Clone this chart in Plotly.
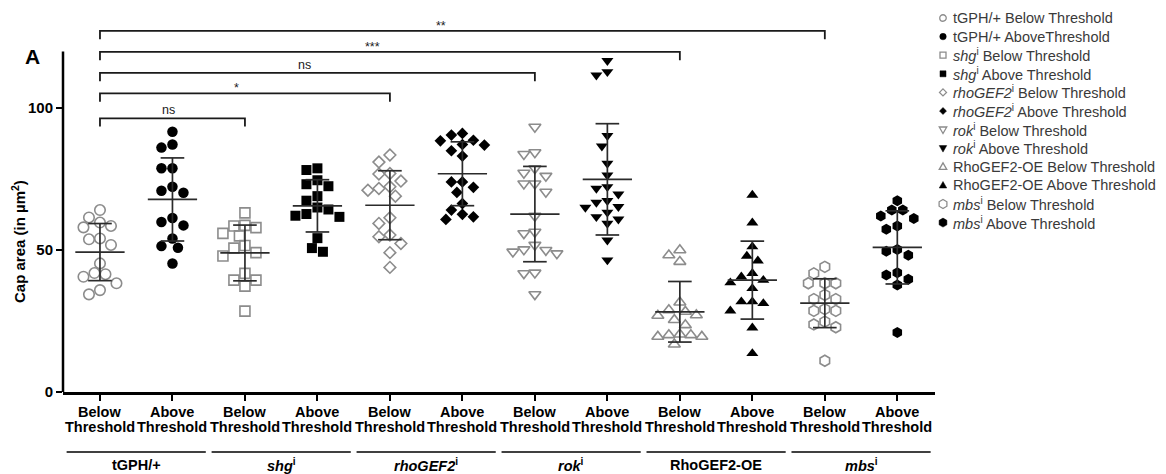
import numpy as np
import plotly.graph_objects as go

# ---------------- data ----------------
groups = ["tGPH/+", "<i>shg</i><sup>i</sup>", "<i>rhoGEF2</i><sup>i</sup>",
          "<i>rok</i><sup>i</sup>", "RhoGEF2-OE", "<i>mbs</i><sup>i</sup>"]
tick_top = ["Below", "Above"] * 6
tick_bottom = ["Threshold"] * 12

legend_names = [
    "tGPH/+ Below Threshold", "tGPH/+ AboveThreshold",
    "<i>shg</i><sup>i</sup> Below Threshold", "<i>shg</i><sup>i</sup> Above Threshold",
    "<i>rhoGEF2</i><sup>i</sup> Below Threshold", "<i>rhoGEF2</i><sup>i</sup> Above Threshold",
    "<i>rok</i><sup>i</sup> Below Threshold", "<i>rok</i><sup>i</sup> Above Threshold",
    "RhoGEF2-OE Below Threshold", "RhoGEF2-OE Above Threshold",
    "<i>mbs</i><sup>i</sup> Below Threshold", "<i>mbs</i><sup>i</sup> Above Threshold",
]

tgph_below = [64.1, 61.5, 59.7, 58.0, 58.5, 53.8, 54.1, 51.8, 45.3, 41.5, 40.6, 41.9, 38.3, 35.9, 34.4]
tgph_above = [91.7, 87.2, 86.1, 78.8, 78.8, 70.9, 70.2, 72.3, 61.3, 58.7, 59.9, 54.1, 51.4, 50.8, 45.3]
shg_below = [63.1, 57.9, 58.7, 58.5, 55.9, 55.0, 51.6, 50.7, 49.1, 47.9, 41.8, 39.4, 39.4, 37.3, 28.5]
shg_above = [78.8, 78.2, 74.6, 72.5, 73.2, 69.0, 67.4, 65.0, 64.3, 62.7, 61.7, 62.1, 54.2, 49.4, 50.7]
rhogef2_below = [83.5, 81.0, 76.8, 77.0, 74.3, 71.7, 72.3, 71.1, 69.0, 61.4, 59.4, 54.7, 55.3, 52.3, 49.1, 43.9]
rhogef2_above = [90.5, 91.1, 88.5, 88.7, 87.2, 87.0, 85.0, 83.1, 74.0, 74.0, 72.1, 70.3, 66.4, 64.1, 62.6, 60.8, 61.7]
rok_below = [93.4, 84.4, 83.8, 78.8, 76.1, 77.2, 73.4, 73.4, 70.5, 62.0, 56.4, 55.9, 51.8, 50.0, 49.4, 50.2, 48.8, 42.0, 41.8, 34.4]
rok_above = [116.7, 111.6, 112.8, 90.3, 86.6, 80.5, 76.4, 72.3, 71.7, 69.7, 67.4, 66.8, 65.0, 65.3, 63.3, 61.7, 60.9, 59.4, 53.5, 46.5]
oe_below = [48.2, 50.0, 45.9, 31.6, 28.3, 28.9, 27.1, 26.9, 25.4, 23.6, 19.5, 20.1, 19.5, 20.1, 20.3, 16.8]
oe_above = [69.4, 59.6, 51.2, 47.9, 46.2, 41.8, 40.6, 39.4, 38.5, 36.5, 31.8, 31.8, 31.2, 28.6, 22.6, 13.6]
mbs_below = [44.1, 41.8, 38.3, 38.3, 38.3, 34.2, 32.7, 32.7, 29.2, 28.6, 28.6, 23.8, 22.8, 24.8, 11.0]
mbs_above = [67.4, 64.1, 64.1, 62.0, 61.1, 58.5, 57.3, 50.2, 48.2, 49.6, 42.0, 39.7, 41.2, 37.7, 21.0]

series = [tgph_below, tgph_above, shg_below, shg_above, rhogef2_below, rhogef2_above,
          rok_below, rok_above, oe_below, oe_above, mbs_below, mbs_above]

# significance comparisons (all against column 0)
bracket_end = [2, 4, 6, 8, 10]
bracket_text = ["ns", "*", "ns", "***", "**"]

# ---------------- layout constants ----------------
# page body has an 8px margin, so the figure is drawn 8px smaller and offset
OFF = 8
W, H = 1166 - OFF, 474 - OFF
PL, PR, PT, PB = 63, 935, 23, 392          # plot area in window pixels
ML, MR, MT, MB = PL - OFF, W - (PR - OFF), PT - OFF, H - (PB - OFF)
XR = [-0.51, 11.52]
YR = [0, 130]
PW, PH = PR - PL, PB - PT
PX_X = PW / (XR[1] - XR[0])
PX_Y = PH / (YR[1] - YR[0])
BRACKET_Y = [96.4, 105.2, 112.4, 119.8, 127.2]
FONT = "Liberation Sans, Arial, sans-serif"
GRAY = "#8c8c8c"

symbols = ["circle", "square", "diamond", "triangle-down", "triangle-up", "hexagon"]
sizes = [10.5, 10, 9, 10.5, 10.5, 11]
leg_sizes = [6.5, 6, 7, 7.5, 7.5, 9]


def swarm(vals, diam=11.0):
    vals = np.asarray(vals, dtype=float)
    order = np.argsort(-vals, kind="stable")
    h = diam / 2.0
    cands = [0.0]
    for k in range(1, 8):
        cands += [-k * h, k * h]
    placed = []
    offs = np.zeros(len(vals))
    for i in order:
        y = vals[i] * PX_Y
        for c in cands:
            ok = all((c - px) ** 2 + (y - py) ** 2 >= (0.97 * diam) ** 2 for px, py in placed)
            if ok:
                placed.append((c, y))
                offs[i] = c / PX_X
                break
    return offs


def px2paper(px, py):
    return (px - PL) / PW, (PB - py) / PH


def key_shape(sym, cx, cy, s, filled):
    style = dict(xref="paper", yref="paper", layer="above",
                 fillcolor="black" if filled else "rgba(0,0,0,0)",
                 line=dict(color="black" if filled else GRAY, width=0.5 if filled else 1.3))
    r = s / 2.0
    if sym == "circle":
        x0, y0 = px2paper(cx - r, cy + r)
        x1, y1 = px2paper(cx + r, cy - r)
        return dict(type="circle", x0=x0, y0=y0, x1=x1, y1=y1, **style)
    if sym == "square":
        x0, y0 = px2paper(cx - r, cy + r)
        x1, y1 = px2paper(cx + r, cy - r)
        return dict(type="rect", x0=x0, y0=y0, x1=x1, y1=y1, **style)
    if sym == "diamond":
        pts = [(cx, cy - r), (cx + r, cy), (cx, cy + r), (cx - r, cy)]
    elif sym == "triangle-down":
        hh = s * 0.87
        pts = [(cx - r, cy - hh * 0.4), (cx + r, cy - hh * 0.4), (cx, cy + hh * 0.6)]
    elif sym == "triangle-up":
        hh = s * 0.87
        pts = [(cx - r, cy + hh * 0.4), (cx + r, cy + hh * 0.4), (cx, cy - hh * 0.6)]
    else:  # hexagon
        pts = [(cx + r * np.cos(np.radians(90 + 60 * k)), cy + r * np.sin(np.radians(90 + 60 * k)))
               for k in range(6)]
    pp = [px2paper(a, b) for a, b in pts]
    path = "M " + " L ".join(f"{a:.5f},{b:.5f}" for a, b in pp) + " Z"
    return dict(type="path", path=path, **style)


fig = go.Figure()

for i, vals in enumerate(series):
    g = i // 2
    below = (i % 2 == 0)
    sym = symbols[g] + ("-open" if below else "")
    offs = swarm(vals)
    fig.add_trace(go.Scatter(
        x=i + offs, y=vals, mode="markers", showlegend=False, name=legend_names[i],
        marker=dict(symbol=sym, size=sizes[g], color=GRAY if below else "black",
                    line=dict(width=1.6 if below else 0, color=GRAY if below else "black")),
        hoverinfo="y"))

# mean +/- SD
mx, my = [], []
for i, vals in enumerate(series):
    m = float(np.mean(vals))
    s = float(np.std(vals, ddof=1))
    mx += [i - 0.34, i + 0.34, None, i - 0.163, i + 0.163, None,
           i - 0.163, i + 0.163, None, i, i, None]
    my += [m, m, None, m + s, m + s, None, m - s, m - s, None, m - s, m + s, None]
fig.add_trace(go.Scatter(x=mx, y=my, mode="lines", showlegend=False,
                         line=dict(color="#2b2b2b", width=1.7), hoverinfo="skip"))

shapes = []
annotations = []

# manual legend (keys + texts) to the right of the plot
LEG_X_SYM, LEG_X_TXT, LEG_Y0, LEG_DY = 943, 951, 18, 18.6
for k, name in enumerate(legend_names):
    g = k // 2
    below = (k % 2 == 0)
    py = LEG_Y0 + LEG_DY * k
    shapes.append(key_shape(symbols[g], LEG_X_SYM, py, leg_sizes[g], not below))
    tx, ty = px2paper(LEG_X_TXT, py)
    annotations.append(dict(x=tx, y=ty, xref="paper", yref="paper",
                            text=name, showarrow=False, xanchor="left", yanchor="middle",
                            font=dict(family=FONT, size=14.5, color="#3a3a3a")))

# y axis line (stops at 120)
shapes.append(dict(type="line", xref="paper", yref="y", x0=0, x1=0, y0=0, y1=120,
                   line=dict(color="black", width=2.5)))

# brackets
for b, txt, hy in zip(bracket_end, bracket_text, BRACKET_Y):
    d = 2.9
    shapes.append(dict(type="path", xref="x", yref="y",
                       path=f"M 0,{hy - d} L 0,{hy} L {b},{hy} L {b},{hy - d}",
                       line=dict(color="#1a1a1a", width=1.8)))
    annotations.append(dict(x=0.47 * b, y=hy, xref="x", yref="y", text=txt,
                            showarrow=False, yanchor="bottom",
                            yshift=-4 if "*" in txt else -1,
                            font=dict(family=FONT, size=12.5, color="#1a1a1a")))

# x labels (two rows)
for i in range(12):
    annotations.append(dict(x=i, y=0, xref="x", yref="paper", text=f"<b>{tick_top[i]}</b>",
                            showarrow=False, yanchor="middle", yshift=-20,
                            font=dict(family=FONT, size=14.5, color="black")))
    annotations.append(dict(x=i, y=0, xref="x", yref="paper", text=f"<b>{tick_bottom[i]}</b>",
                            showarrow=False, yanchor="middle", yshift=-35,
                            font=dict(family=FONT, size=14.5, color="black")))

# group underlines + labels
for gi, gname in enumerate(groups):
    c = 2 * gi + 0.5
    shapes.append(dict(type="line", xref="x", yref="paper", x0=c - 0.96, x1=c + 0.96,
                       y0=-60 / PH, y1=-60 / PH, line=dict(color="black", width=1.5)))
    annotations.append(dict(x=c, y=0, xref="x", yref="paper", text=f"<b>{gname}</b>",
                            showarrow=False, yanchor="middle", yshift=-73,
                            font=dict(family=FONT, size=14.5, color="black")))

# panel letter and y title
ax_, ay_ = px2paper(23, 57)
annotations.append(dict(x=ax_, y=ay_, xref="paper", yref="paper",
                        text="<b>A</b>", showarrow=False, xanchor="left", yanchor="middle",
                        font=dict(family=FONT, size=21, color="black")))
tx_, ty_ = px2paper(18, 242)
annotations.append(dict(x=tx_, y=ty_, xref="paper", yref="paper",
                        text="<b>Cap area (in µm<sup>2</sup>)</b>", textangle=-90,
                        showarrow=False, xanchor="center", yanchor="middle",
                        font=dict(family=FONT, size=15, color="black")))

fig.update_layout(
    width=W, height=H, margin=dict(l=ML, r=MR, t=MT, b=MB, autoexpand=False),
    paper_bgcolor="white", plot_bgcolor="white",
    font=dict(family=FONT, color="black"),
    xaxis=dict(range=XR, tickvals=list(range(12)), showticklabels=False,
               showline=True, linecolor="black", linewidth=2.5,
               ticks="outside", ticklen=6, tickwidth=2, tickcolor="black",
               showgrid=False, zeroline=False),
    yaxis=dict(range=YR, tickvals=[0, 50, 100], showline=False,
               ticks="outside", ticklen=6, tickwidth=2, tickcolor="black",
               tickfont=dict(family=FONT, size=15, color="black", weight="bold"),
               showgrid=False, zeroline=False),
    showlegend=False,
    shapes=shapes, annotations=annotations,
)

fig.write_html("out.html")
